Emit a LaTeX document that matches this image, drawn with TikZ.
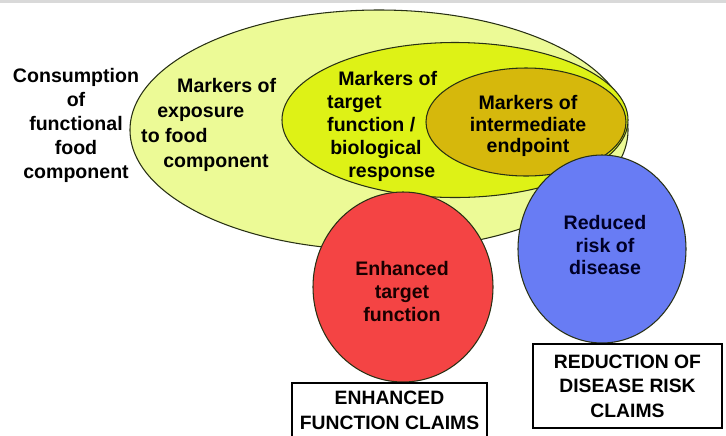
\documentclass[tikz,border=0pt]{standalone}
\usepackage{fontspec}
\setmainfont{Liberation Sans}
\usetikzlibrary{shapes.geometric}
\usetikzlibrary{positioning}

\definecolor{palelime}{RGB}{236,250,150}
\definecolor{brightlime}{RGB}{222,242,22}
\definecolor{goldish}{RGB}{214,184,12}
\definecolor{claimred}{RGB}{244,68,68}
\definecolor{claimblue}{RGB}{104,124,244}
\definecolor{rimline}{RGB}{40,48,20}

\tikzset{
  bubble/.style={ellipse, draw=rimline, line width=0.9pt, inner sep=0pt},
  words/.style={font=\fontsize{16.7}{20.5}\selectfont\bfseries, inner sep=0pt},
  claimbox/.style={draw=black, line width=1.1pt, fill=white, align=center,
    inner sep=0pt, font=\fontsize{16.5}{21}\selectfont\bfseries},
}

\begin{document}
\begin{tikzpicture}[x=0.03cm, y=-0.03cm]
  % 画布与顶部灰条
  \clip (0,0) rectangle (726,435);
  \fill[white] (0,0) rectangle (726,435);
  \fill[black!15] (0,0) rectangle (726,3);
  % 三层嵌套椭圆
  \node[bubble, fill=palelime, minimum width=14.94cm, minimum height=7.2cm] (exposure) at (379,130) {};
  \node[bubble, fill=brightlime, minimum width=10.38cm, minimum height=4.65cm] (target) at (455,120) {};
  \node[bubble, fill=goldish, minimum width=6.0cm, minimum height=3.24cm] (endpoint) at (526,122) {};
  % 两个结果圆
  \node[bubble, fill=claimred, minimum width=5.4cm, minimum height=5.7cm] (enhanced) at (403,287) {};
  \node[bubble, fill=claimblue, minimum width=5.04cm, minimum height=5.64cm] (reduced) at (602,249) {};
  % 声明方框（下沿伸出画面）
  \node[claimbox, minimum width=5.85cm, minimum height=2.4cm] (efc) at (389.5,423) {};
  \node[words, align=center, font=\fontsize{16.5}{21.5}\selectfont\bfseries] (efctext) at (389.5,410.5)
    {ENHANCED\\FUNCTION CLAIMS};
  \node[claimbox, minimum width=5.67cm, minimum height=2.52cm] (rdrc) at (627.5,386)
    {REDUCTION OF\\DISEASE RISK\\CLAIMS};
  % 各区域文字
  \node[words, align=center] (consumption) at (76,125.5)
    {Consumption\\of\\functional\\food\\component};
  \node[words, align=left, anchor=west, font=\fontsize{16.7}{21.3}\selectfont\bfseries] (exposuretext) at (141,125)
    {\hspace*{30.7pt}Markers of\\\hspace*{13.7pt}exposure\\to food\\\hspace*{18.8pt}component};
  \node[words, align=left, anchor=west, font=\fontsize{16.7}{19.6}\selectfont\bfseries] (targettext) at (327,126.5)
    {\hspace*{9.4pt}Markers of\\target\\function /\\\hspace*{2.6pt}biological\\\hspace*{18pt}response};
  \node[words, align=center, font=\fontsize{16.7}{18}\selectfont\bfseries] (endpointtext) at (528,126)
    {Markers of\\intermediate\\endpoint};
  \node[words, align=center, text=black!90!red, font=\fontsize{16.7}{20}\selectfont\bfseries] (enhancedtext) at (402,291.5)
    {Enhanced\\target\\function};
  \node[words, align=center, text=black!85!blue, font=\fontsize{16.7}{19.6}\selectfont\bfseries] (reducedtext) at (605,245)
    {Reduced\\risk of\\disease};
\end{tikzpicture}
\end{document}
